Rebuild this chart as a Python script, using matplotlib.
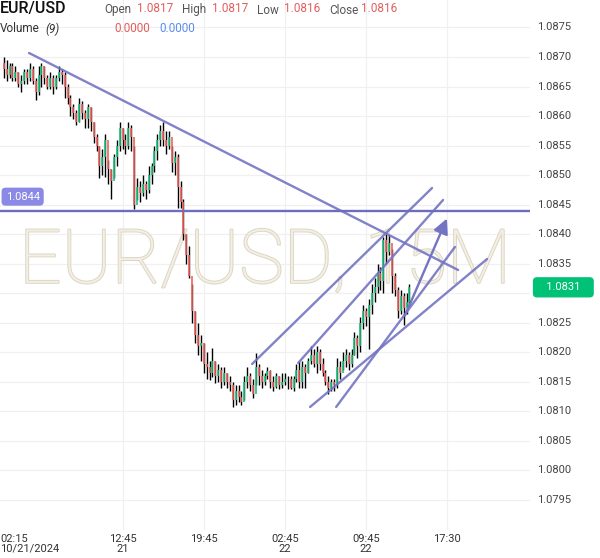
import matplotlib
matplotlib.use("Agg")
import matplotlib.pyplot as plt
import matplotlib.patheffects as pe
import numpy as np

plt.rcParams['font.family'] = ['Roboto', 'DejaVu Sans']

# ---- data (prices as pips above 1.0800) ----
close_pips = [68, 67, 68.5, 66.5, 67.5, 65.5, 66, 67.5, 66.5, 68, 66, 64, 67, 68.5, 66.5, 65, 66.5, 65, 66.5, 67.5,
              67, 65, 63, 61.5, 60.5, 59, 62, 60.5, 59.5, 61.5, 59, 56.5, 55, 51.5, 53, 56, 51, 49, 53, 55,
              58, 56, 55, 58, 56.5, 45, 48, 47, 48.5, 47.5, 50, 51.5, 54, 56, 57.5, 56, 55, 56.5, 52, 53,
              48, 45.5, 40, 36.5, 33, 27, 23, 21, 21.5, 18, 17.5, 16.5, 18.5, 16, 17, 15, 16.5, 15, 14.5, 12,
              13.5, 12.5, 11.5, 15, 16, 14.5, 13, 17.5, 16, 15, 16, 16.8, 15, 14.2, 16, 14.5, 15, 15.5, 15.5, 14,
              15.5, 17, 15, 17.5, 16.5, 18.5, 19.5, 18, 20, 18, 16.5, 15, 14, 15, 14.5, 17.5, 16.5, 18.5, 19.5, 18,
              19.5, 22.5, 21, 25, 27, 26, 28, 30, 31, 33.5, 32, 39, 37, 38.5, 33, 30.5, 27, 29.5, 27.5, 28.5,
              31]
high_pips = [70, 69.5, 69, 69, 68.5, 67.5, 67, 68, 68, 69, 68.5, 66.5, 68.5, 69, 68.5, 67, 67.5, 67, 67, 68.5,
             68, 67.5, 65.5, 63.5, 62, 61, 63, 62.5, 61, 62, 61.5, 59, 57, 55, 54.5, 57, 52.5, 51, 53.5, 56,
             59, 58, 57, 59, 58.5, 55, 49.5, 49, 50, 49, 51.5, 52, 55, 57, 58.5, 59, 57.5, 57.5, 55, 54,
             53.5, 49, 46, 40, 38, 31.5, 27, 25, 23, 21.5, 20, 18.5, 20.7, 18.5, 18, 17.5, 17.5, 16.5, 16, 15,
             14.5, 14.5, 13.5, 16, 17.5, 16.5, 15.5, 19.8, 18, 17, 16.5, 17.5, 17, 16, 16.5, 16, 16.5, 16.5, 16, 16,
             16, 18, 18.5, 18.5, 18, 19, 21, 20.5, 21, 20.5, 19, 17, 16, 15.5, 15.5, 19, 18.5, 20, 20.5, 20,
             20.5, 23.5, 23, 26, 28, 27.5, 29, 31.5, 32.5, 35, 34.5, 39.5, 40, 39.8, 37.5, 33.5, 31, 30.5, 30, 30,
             31.5]
low_pips = [66.5, 66, 66.5, 66, 66, 65, 64, 65.5, 65.5, 66, 65.5, 62.7, 63.5, 65, 65.5, 64.5, 64.5, 63.8, 64.5, 66,
            65.5, 63, 62, 60, 59.5, 58.5, 59, 59.5, 58, 58, 57.5, 55.5, 54, 49.5, 50, 49.7, 48.5, 46, 49.5, 51.5,
            54, 54.5, 53.5, 54.5, 54, 44.2, 45.8, 45.5, 46.5, 46, 47, 48.5, 50.5, 52.5, 55, 55, 53.5, 54.5, 50.5, 50,
            44.5, 44.5, 39, 35, 32.5, 25, 21.5, 19.5, 18.5, 16.5, 15.5, 15.3, 15.8, 14.8, 15, 14, 14.5, 14, 13.5, 10.7,
            11, 11.5, 11, 12, 14, 13.5, 12.2, 14.5, 14.5, 14, 14.5, 15.5, 14, 13.5, 14, 13.7, 14, 14.5, 13.7, 13.8,
            13.5, 15, 14, 14, 14, 16.5, 18, 17.5, 16.5, 17, 16, 14.5, 13, 13.5, 13.5, 14, 15.5, 17, 17.5, 17,
            17.5, 19.5, 19, 20, 24, 24.5, 20.5, 26.5, 28.5, 30, 30.5, 30, 35, 36.5, 30, 29.5, 25.8, 26.5, 24.6, 26.5,
            28]

closes = 1.08 + np.array(close_pips) / 1e4
highs = 1.08 + np.array(high_pips) / 1e4
lows = 1.08 + np.array(low_pips) / 1e4
opens = np.concatenate([[1.0869], closes[:-1]])
n = len(closes)
idx = np.arange(n)

# drawn annotations: (index0, price0, index1, price1)
trend_lines = [
    (8.7, 1.087068, 156.8, 1.083393),
    (85.7, 1.081802, 147.8, 1.084782),
    (101.6, 1.081819, 151.6, 1.084579),
    (114.7, 1.081074, 155.7, 1.083783),
    (105.7, 1.081074, 166.8, 1.083580),
]
arrow_line = (138.1, 1.082581, 153.3, 1.084308)
hline_price = 1.0844
last_price = 1.0831

y_ticks = [1.0795, 1.0800, 1.0805, 1.0810, 1.0815, 1.0820, 1.0825, 1.0830, 1.0835, 1.0840,
           1.0845, 1.0850, 1.0855, 1.0860, 1.0865, 1.0870, 1.0875]
x_tick_idx = [41, 69, 97, 125, 153]
x_tick_labels = ["12:45\n21", "19:45", "02:45\n22", "09:45\n22", "17:30"]

W, H = 600, 558
fig = plt.figure(figsize=(W / 100, H / 100), dpi=100)
ax = fig.add_axes([0, 28 / H, 530 / W, 530 / H])
ax.set_xlim(-1.31, 181.6)
ax.set_ylim(1.078991, 1.087965)
for s in ax.spines.values():
    s.set_visible(False)
ax.set_xticks(x_tick_idx)
ax.set_yticks(y_ticks)
ax.tick_params(length=0, labelleft=False, labelbottom=False)
ax.grid(True, color='#f0f0f0', lw=0.9)
ax.set_axisbelow(True)

# watermark
ax.text(0.5, 0.505, "EUR/USD, 15M", transform=ax.transAxes, ha='center', va='center',
        fontsize=54, color='#f3efe6', fontweight='light', zorder=1,
        path_effects=[pe.withStroke(linewidth=1.4, foreground='#ddd6c3')])

# candles
up = closes >= opens
body_colors = np.where(up, '#1ec47f', '#f0625d')
ax.vlines(idx, lows, highs, color='black', lw=1.0, zorder=3)
ax.vlines(idx, opens, closes, colors=body_colors, lw=1.2, zorder=4)

# drawings
lc = '#7474c4'
for x0, y0, x1, y1 in trend_lines:
    ax.plot([x0, x1], [y0, y1], color=lc, lw=1.7, alpha=0.9, zorder=5, solid_capstyle='round')
ax.axhline(hline_price, color='#6d6dbd', lw=1.7, zorder=5)
ax0, ay0, ax1, ay1 = arrow_line
ax.annotate("", xy=(ax1, ay1), xytext=(ax0, ay0),
            arrowprops=dict(arrowstyle="-|>,head_length=0.9,head_width=0.45", color=lc, lw=1.7),
            zorder=6)

# right axis labels
for t in y_ticks:
    if abs(t - last_price) < 0.00035:
        continue
    ax.annotate(f"{t:.4f}", xy=(1, t), xycoords=('axes fraction', 'data'), xytext=(5, 0),
                textcoords='offset points', ha='left', va='center', fontsize=8, color='#444444',
                annotation_clip=False)

# last price label
ax.annotate(f"   {last_price:.4f}   ", xy=(1, last_price), xycoords=('axes fraction', 'data'),
            xytext=(24, 0), textcoords='offset points', ha='center', va='center', fontsize=8,
            color='white', annotation_clip=False,
            bbox=dict(boxstyle='round,pad=0.4,rounding_size=0.3', fc='#00c176', ec='#00c176'))

# horizontal line price label
ax.annotate(f"{hline_price:.4f}", xy=(0, hline_price), xycoords=('axes fraction', 'data'),
            xytext=(4, 10), textcoords='offset points', ha='left', va='center', fontsize=8,
            color='white', annotation_clip=False,
            bbox=dict(boxstyle='round,pad=0.3,rounding_size=0.3', fc='#8a8ae6', ec='#8a8ae6'))

# x labels
ax.text(0, -0.008, "02:15\n10/21/2024", transform=ax.transAxes, ha='left', va='top',
        fontsize=8, color='#333333', linespacing=0.95)
for xi, lab in zip(x_tick_idx, x_tick_labels):
    ax.annotate(lab, xy=(xi, 0), xycoords=('data', 'axes fraction'), xytext=(0, -3),
                textcoords='offset points', ha='center', va='top', fontsize=8, color='#333333',
                linespacing=0.95, annotation_clip=False)

# header
def ft(px, py, s, **kw):
    fig.text(px / W, 1 - py / H, s, va='center', **kw)

ft(0, 9, "EUR/USD", fontsize=11.5, color='#111111', fontweight='medium')
ft(104, 10, "Open", fontsize=8.5, color='#555555')
ft(137, 9, "1.0817", fontsize=8.5, color='#e35d5d')
ft(182, 10, "High", fontsize=8.5, color='#555555')
ft(212, 9, "1.0817", fontsize=8.5, color='#e35d5d')
ft(257, 10, "Low", fontsize=8.5, color='#555555')
ft(284, 9, "1.0816", fontsize=8.5, color='#e35d5d')
ft(329, 10, "Close", fontsize=8.5, color='#555555')
ft(361, 9, "1.0816", fontsize=8.5, color='#e35d5d')
ft(0, 29, "Volume", fontsize=8.5, color='#333333')
ft(45, 29, "(9)", fontsize=8.5, color='#333333', style='italic')
ft(114, 28, "0.0000", fontsize=8.5, color='#e35d5d')
ft(159, 28, "0.0000", fontsize=8.5, color='#5b8def')

fig.savefig("out.png", dpi=100)
